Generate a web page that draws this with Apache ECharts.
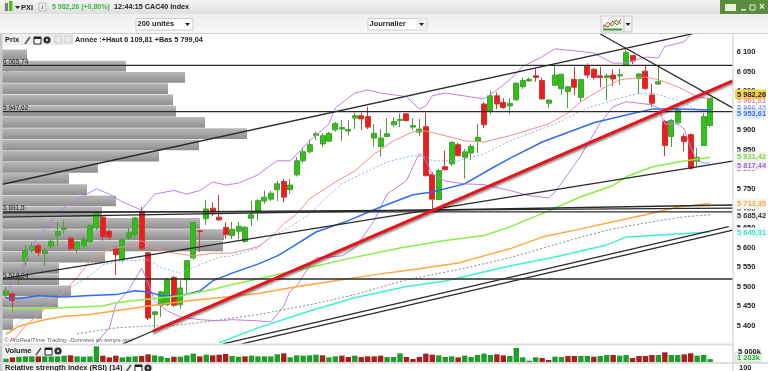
<!DOCTYPE html>
<html>
<head>
<meta charset="utf-8">
<style>html,body{margin:0;padding:0;background:#fff;overflow:hidden}#chart{width:768px;height:371px}</style>
<script src="https://cdn.jsdelivr.net/npm/echarts@6/dist/echarts.min.js"></script>
</head>
<body>
<div id="chart"></div>
<script>
// cours journaliers
var opens = [5480,5482,5523,5566,5592,5605,5585,5604,5631,5647,5624,5597,5605,5616,5652,5678,5642,5597,5569,5625,5633,5693,5587,5429,5453,5454,5524,5454,5518,5574,5643,5674,5701,5678,5652,5631,5642,5616,5675,5693,5719,5724,5748,5769,5748,5786,5822,5845,5887,5865,5872,5901,5903,5898,5931,5937,5935,5880,5858,5884,5914,5925,5942,5908,5895,5909,5787,5723,5807,5814,5863,5831,5842,5872,5967,5948,5988,5971,5962,5978,6011,6026,6039,6027,5969,6015,6006,5999,6030,5984,6064,6056,6039,6035,6041,6039,6065,6091,6032,6051,5990,6018,5922,5884,5919,5884,5889,5821,5861,5912];
var closes = [5490,5465,5526,5592,5603,5587,5592,5616,5641,5650,5597,5614,5620,5656,5688,5628,5627,5582,5620,5638,5676,5597,5420,5436,5487,5518,5453,5497,5567,5664,5641,5699,5691,5671,5633,5647,5655,5652,5684,5720,5729,5739,5763,5729,5760,5822,5845,5863,5891,5886,5892,5917,5907,5902,5937,5929,5908,5892,5880,5891,5922,5928,5925,5912,5903,5784,5724,5797,5799,5869,5835,5845,5859,5882,5914,5988,5967,5958,5969,6020,6027,6030,6035,5980,5977,6041,6043,6011,6010,6030,6041,6035,6035,6039,6031,6042,6099,6077,6044,6007,5969,6024,5861,5925,5952,5871,5803,5831,5935,5982];
var lows = [5472,5438,5505,5553,5586,5579,5553,5599,5603,5635,5594,5586,5597,5612,5645,5618,5620,5530,5563,5622,5622,5594,5415,5395,5423,5451,5449,5444,5484,5569,5589,5658,5681,5669,5622,5622,5622,5612,5656,5669,5712,5719,5719,5716,5737,5782,5816,5841,5875,5857,5870,5896,5872,5886,5903,5901,5903,5858,5833,5884,5908,5908,5922,5901,5886,5781,5699,5722,5798,5809,5833,5776,5824,5842,5906,5941,5954,5955,5941,5975,6005,6024,6024,5979,5956,6013,5990,5956,5990,5973,6033,6029,6010,5977,6013,6016,6065,6069,5992,6003,5959,6016,5834,5857,5914,5846,5799,5807,5860,5908];
var highs = [5500,5484,5535,5607,5612,5610,5599,5622,5666,5669,5627,5617,5630,5661,5693,5681,5645,5604,5622,5650,5678,5704,5589,5438,5490,5523,5528,5516,5569,5666,5645,5722,5716,5735,5665,5666,5666,5656,5720,5724,5746,5746,5771,5776,5776,5831,5855,5876,5896,5893,5896,5921,5926,5926,5945,5945,5960,5916,5903,5931,5933,5943,5943,5931,5929,5945,5793,5801,5848,5873,5868,5852,5865,5916,5972,6001,5996,5982,5982,6023,6035,6035,6058,6035,5980,6064,6044,6013,6062,6031,6071,6058,6062,6044,6056,6058,6109,6092,6044,6067,6018,6065,5926,5929,5957,5891,5892,5855,5944,5983];
var volumes = [1390,1950,2220,2360,2360,2360,2360,2360,2360,2640,2780,2360,2220,2360,6530,2640,1950,2640,1950,2220,2360,2500,3200,2780,2360,1670,2220,2220,2780,3480,2360,3060,2780,3060,3340,2500,2220,2360,2640,
  2360,2360,2360,3200,3610,1950,2780,2640,2780,3060,2780,1950,2360,2640,2090,2640,2090,2360,2360,2640,2090,2090,3610,2090,1250,2090,3480,3060,2780,2090,2360,1950,2640,2090,2920,3480,2920,3200,2780,2500,
  5840,1950,560,1950,1670,830,2220,2090,2500,2500,2500,2500,2220,2500,2920,2920,2640,2920,1670,2500,2500,2920,2920,4030,2920,2920,3200,3610,2640,2920,1203];
var profile = [25,124,183,166,171,174,203,245,197,157,96,67,85,114,100,198,222,221,103,57,57,69,56,40,11];

// moyennes et bandes : [indice de bougie, valeur]
var bollUpper = [[0,5487],[2,5528],[4,5604],[7,5668],[9,5704],[12,5732],[14,5750],[16,5737],[18,5717],[21,5696],[23,5737],[26,5746],[28,5737],[30,5746],[32,5768],[34,5760],[36,5765],[39,5786],[41,5811],[42,5822],[44,5822],[47,5873],[50,5916],[51,5957],[54,5995],[56,6003],[58,5995],[62,5986],[64,5954],[65,5962],[66,5988],[68,5995],[72,5985],[74,5980],[76,6003],[78,6029],[80,6063],[83,6088],[85,6108],[89,6101],[91,6097],[94,6071],[96,6072],[99,6087],[101,6085],[102,6114],[105,6126],[106,6146],[109,6149]];
var bollLower = [[14,5357],[16,5395],[17,5454],[19,5492],[21,5548],[22,5510],[23,5464],[25,5438],[27,5423],[30,5416],[33,5413],[35,5416],[39,5413],[41,5410],[43,5451],[44,5489],[45,5502],[47,5553],[48,5574],[50,5576],[52,5579],[54,5599],[57,5669],[59,5737],[62,5771],[64,5842],[65,5822],[66,5788],[68,5770],[71,5763],[74,5761],[78,5746],[81,5733],[84,5727],[85,5742],[87,5788],[89,5835],[91,5891],[92,5919],[94,5960],[96,5973],[100,5965],[101,5957],[102,5916],[104,5916],[105,5903],[106,5857],[107,5822],[108,5816],[109,5817]];
var maSalmon = [[1,5360],[3,5400],[5,5429],[8,5471],[11,5523],[13,5566],[16,5597],[19,5604],[21,5618],[23,5599],[26,5586],[29,5579],[32,5586],[35,5586],[39,5602],[41,5627],[43,5661],[45,5686],[47,5725],[51,5768],[54,5796],[57,5839],[60,5873],[63,5896],[65,5898],[68,5886],[71,5873],[74,5870],[78,5886],[84,5916],[87,5944],[89,5973],[92,6003],[95,6029],[99,6036],[101,6029],[104,6011],[107,5986],[109,5980]];
var maDashed = [[0,5382],[2,5408],[4,5438],[7,5454],[9,5489],[13,5528],[15,5556],[18,5566],[22,5569],[24,5548],[27,5535],[30,5556],[33,5576],[35,5579],[39,5599],[41,5627],[44,5653],[47,5686],[49,5719],[52,5763],[55,5788],[59,5819],[63,5835],[65,5832],[66,5822],[70,5822],[74,5839],[78,5873],[85,5916],[90,5957],[94,5977],[98,5995],[100,5995],[104,5977],[107,5952],[109,5947]];
var maBlue = [[0,5472],[2,5470],[5,5477],[9,5474],[13,5478],[17,5480],[20,5490],[22,5487],[24,5477],[27,5477],[30,5489],[32,5515],[35,5535],[39,5558],[42,5579],[44,5599],[48,5640],[53,5669],[58,5704],[63,5735],[66,5742],[71,5763],[75,5801],[78,5828],[83,5870],[91,5919],[96,5939],[100,5954],[104,5954],[109,5952]];
var maGreen = [[0,5443],[4,5444],[8,5446],[15,5451],[17,5459],[21,5467],[23,5470],[27,5477],[32,5493],[35,5506],[39,5520],[43,5535],[48,5553],[53,5572],[58,5589],[61,5599],[68,5618],[74,5631],[78,5653],[84,5694],[89,5730],[94,5759],[96,5781],[100,5806],[104,5819],[109,5831]];
var maOrange = [[0,5378],[2,5400],[6,5416],[9,5425],[13,5429],[17,5439],[22,5451],[28,5464],[33,5472],[39,5483],[45,5500],[52,5518],[58,5533],[64,5546],[70,5561],[74,5579],[78,5597],[83,5627],[89,5648],[94,5666],[99,5684],[104,5704],[109,5713]];
var maGray = [[11,5380],[17,5395],[22,5400],[26,5401],[32,5413],[39,5429],[47,5454],[54,5480],[62,5518],[70,5544],[78,5574],[89,5627],[94,5648],[100,5666],[105,5679],[109,5684]];
var maCyan = [[33,5357],[39,5395],[47,5438],[54,5472],[62,5501],[68,5515],[78,5553],[85,5576],[93,5607],[96,5627],[104,5635],[109,5640]];

// lignes tracees a la main sur le graphique
var levels = [6065.74,5947.62,5691.5,5519.94];
var trendBlack = [
  [[-0.5,5762],[106.2,6146]],
  [[-0.5,5521],[112.5,5821]],
  [[-0.5,5678],[112.5,5709]],
  [[-0.5,5689],[112.5,5701]],
  [[92,6146],[112.5,5957]],
  [[18.1,5354],[22.76,5387]],
  [[33.6,5354],[111.9,5654]],
  [[36.5,5354],[112.5,5645]]
];
var trendRed = [[22.76,5387],[112.5,6026]];

var lastIndex = opens.length + 3;
var categories = [];
for (var i = 0; i < lastIndex; i++) categories.push(String(i));

var candles = opens.map(function (o, i) { return [o, closes[i], lows[i], highs[i]]; });
var volBars = volumes.map(function (v, i) {
  var down = i > 0 && closes[i] < closes[i - 1];
  return { value: v, itemStyle: { color: down ? '#a81f1f' : '#1f9e2b' } };
});

function line(data, color, width, type, z) {
  return {
    type: 'line', xAxisIndex: 1, yAxisIndex: 0, data: data, showSymbol: false, silent: true,
    z: z || 4, lineStyle: { color: color, width: width, type: type || 'solid' }
  };
}

var FONT = '"Liberation Sans", Arial, sans-serif';
function txt(x, y, s, color, size, weight, bg) {
  var st = { x: x, y: y, text: s, fill: color || '#222', font: (weight || 'bold') + ' ' + (size || 7.5) + 'px ' + FONT, verticalAlign: 'middle' };
  if (bg) { st.backgroundColor = bg; st.padding = [1, 1, 1, 1]; }
  return { type: 'text', z: 50, style: st };
}
function box(x, y, w, h, fill, stroke) {
  return { type: 'rect', z: 40, shape: { x: x, y: y, width: w, height: h }, style: { fill: fill, stroke: stroke || null, lineWidth: 1 } };
}
function grad(a, b) {
  return new echarts.graphic.LinearGradient(0, 0, 0, 1, [{ offset: 0, color: a }, { offset: 1, color: b }]);
}
function tri(x, y) {
  return { type: 'polygon', z: 50, shape: { points: [[x, y], [x + 5, y], [x + 2.5, y + 3]] }, style: { fill: '#222' } };
}
function tools(x, y) {
  return [
    { type: 'line', z: 50, shape: { x1: x, y1: y + 4, x2: x + 5, y2: y - 3 }, style: { stroke: '#555', lineWidth: 1.6 } },
    box(x + 9, y - 3, 7, 7, '#fff', '#222'),
    box(x + 9, y - 3, 7, 2, '#222'),
    { type: 'circle', z: 50, shape: { cx: x + 22, cy: y, r: 3.6 }, style: { fill: '#333' } },
    { type: 'circle', z: 51, shape: { cx: x + 22, cy: y, r: 1.2 }, style: { fill: '#ccc' } }
  ];
}

var graphics = [
  // barres du haut
  box(0, 0, 768, 14, grad('#f4f4f4', '#dedede')),
  box(0, 14, 768, 20, grad('#eeeeee', '#f8f8f8')),
  { type: 'line', z: 41, shape: { x1: 0, y1: 33.5, x2: 768, y2: 33.5 }, style: { stroke: '#cfcfcf' } },
  box(0, 34, 2.5, 337, '#c8c8c8'),
  box(720, 0, 48, 14, '#5b8c3e'),
  box(725, 4, 11, 7, '#e8f0e0'),
  box(741, 9, 5, 1.5, '#e8f0e0'),
  box(750, 5, 5, 5, 'none', '#e8f0e0'),
  txt(759, 7.5, '×', '#e8f0e0', 10),
  box(5, 3, 3, 8, '#7a7a7a'),
  box(9, 1, 3.5, 10, '#49c21a'),
  tri(15, 6),
  txt(21, 7.5, 'PXI', '#222', 7.5),
  box(39, 3, 7, 8, '#eee', '#bbb'),
  txt(41.5, 7.5, 'i', '#555', 6),
  txt(52, 7.5, '5 982,26 (+0,80%)', '#3db54a', 7),
  txt(114, 7.5, '12:44:15 CAC40 Index', '#222', 7.2),
  box(136, 18.5, 57, 11.5, '#fff', '#ccc'),
  txt(137.5, 24, '200 unités', '#222', 7.5),
  tri(185, 23),
  box(368, 18.5, 59, 11.5, '#fff', '#ccc'),
  txt(369.5, 24, 'Journalier', '#222', 7.5),
  box(416, 18.5, 11, 11.5, '#eee'),
  tri(419, 23),
  box(601, 16, 23, 16, '#f4f4f4', '#ccc'),
  { type: 'polyline', z: 50, shape: { points: [[603, 28], [608, 22], [612, 26], [616, 20], [621, 24]] }, style: { stroke: '#3aa02a', fill: null } },
  { type: 'polyline', z: 50, shape: { points: [[603, 25], [608, 27], [613, 21], [617, 25], [621, 19]] }, style: { stroke: '#d33', fill: null } },
  box(603, 28.5, 19, 2, '#3aa02a'),
  box(624, 16, 8, 16, '#f0f0f0', '#ccc'),
  tri(625.5, 23),
  // entete du panneau prix
  box(3, 34, 70, 11, '#eeeeee'),
  txt(5, 40, 'Prix', '#222', 7.5),
  box(55, 36, 7, 7, '#e8e8e8', '#ccc'),
  box(65, 36, 7, 7, '#e8e8e8', '#ccc'),
  txt(75, 40, 'Année :+Haut 6 109,81 +Bas 5 799,04', '#222', 7.3),
  // niveaux
  txt(3, 62, '6 065,74', '#222', 6.5, 'normal'),
  txt(3, 108.5, '5 947,62', '#222', 6.5, 'normal'),
  txt(3, 208, '5 691,5', '#222', 6.5, 'normal'),
  txt(3, 276, '5 519,94', '#222', 6.5, 'normal'),
  txt(4, 340.5, '© ProRealTime Trading -Données en temps réel', '#666', 6, 'italic'),
  // separations
  box(0, 343.5, 734, 2, '#dddddd'),
  box(0, 362, 768, 2, '#dddddd'),
  { type: 'line', z: 41, shape: { x1: 733, y1: 34, x2: 733, y2: 371 }, style: { stroke: '#cccccc' } },
  box(3, 346, 60, 10, '#f0f0f0'),
  txt(5, 351, 'Volume', '#222', 7.5),
  box(3, 364, 150, 7, '#f0f0f0'),
  txt(5, 368, 'Relative strength index (RSI) (14)', '#222', 7.5),
  txt(739, 368, '100', '#222', 7.5),
  // etiquettes a droite
  txt(738, 351.5, '5 000k', '#222', 7.5),
  txt(737, 100.5, '5 961,61', '#f0908a', 7.5),
  txt(737, 108, '5 960,45', '#8fb0f5', 7.5),
  box(735, 108.5, 31, 11, '#e8effc'),
  txt(737, 114, '5 953,61', '#2f6cf0', 7.5),
  box(735, 89.5, 31, 9.5, '#f3d34a'),
  txt(737, 94.5, '5 982,26', '#222', 7.5),
  box(735, 151.5, 31, 10, '#f2f2f2'),
  txt(737, 156.5, '5 831,42', '#7bdc3c', 7.5),
  box(735, 160.5, 31, 10, '#f2f2f2'),
  txt(737, 165.5, '5 817,44', '#a55fd8', 7.5),
  box(735, 199, 31, 10, '#f4f4f4'),
  txt(737, 204, '5 713,35', '#ffa83c', 7.5),
  box(735, 210.5, 31, 10, '#f4f4f4'),
  txt(737, 215.5, '5 685,42', '#333', 7.5),
  box(735, 227.5, 31, 10, '#eefcfa'),
  txt(737, 232.5, '5 640,31', '#3fe0cc', 7.5),
  box(735, 352.5, 26, 9.5, '#eaf6ea', '#cde5cd'),
  txt(737, 357.5, '1 203k', '#2aa83a', 7.5)
].concat(tools(25, 40)).concat(tools(36, 351)).concat(tools(126, 368));

var series = [
  {
    type: 'bar', xAxisIndex: 3, yAxisIndex: 2, data: profile, barCategoryGap: '4%', silent: true, z: 1,
    itemStyle: { color: grad('#b9b9b9', '#8e8e8e') }
  },
  {
    type: 'candlestick', xAxisIndex: 0, yAxisIndex: 0, data: candles, barWidth: 5.5, silent: true, z: 3,
    itemStyle: { color: '#2cc412', color0: '#f01c1c', borderColor: '#4f9a3c', borderColor0: '#c23c38', borderWidth: 1 }
  },
  { type: 'bar', xAxisIndex: 2, yAxisIndex: 1, data: volBars, barWidth: 5.4, silent: true },
  line(bollUpper, '#bb82e6', 1),
  line(bollLower, '#bb82e6', 1),
  line(maSalmon, '#f0908a', 1),
  line(maDashed, '#8fb0f5', 1, [2, 2]),
  line(maBlue, '#2f6cf0', 1.5),
  line(maGreen, '#8aee44', 1.5),
  line(maOrange, '#ffa83c', 1.5),
  line(maGray, '#8a8a8a', 1, [2, 2]),
  line(maCyan, '#3df0d8', 1.5)
];
levels.forEach(function (v) {
  series.push(line([[-0.5, v], [112.5, v]], '#2a2a2a', 1.4, 'solid', 5));
});
trendBlack.forEach(function (d) {
  series.push(line(d, '#2a2a2a', 1.3, 'solid', 5));
});
var redLine = line(trendRed, '#e8141a', 3, 'solid', 6);
redLine.lineStyle.shadowColor = 'rgba(0,0,0,0.45)';
redLine.lineStyle.shadowBlur = 2;
redLine.lineStyle.shadowOffsetY = 2;
series.push(redLine);

var myChart = echarts.init(document.getElementById('chart'), null, { renderer: 'canvas' });
myChart.setOption({
  animation: false,
  backgroundColor: '#fff',
  grid: [
    { left: 2.77, top: 32.4, width: 729.9, height: 313.1 },
    { left: 2.77, top: 345.5, width: 729.9, height: 16.5 },
    { left: 2, top: 49.3, width: 731, height: 280.8 }
  ],
  xAxis: [
    { type: 'category', gridIndex: 0, data: categories, show: false },
    { type: 'value', gridIndex: 0, min: -0.5, max: 112.5, show: false },
    { type: 'category', gridIndex: 1, data: categories, show: false },
    { type: 'value', gridIndex: 2, min: 0, max: 731, show: false }
  ],
  yAxis: [
    {
      type: 'value', gridIndex: 0, position: 'right', min: 5350, max: 6150, interval: 50, scale: true,
      splitLine: { show: false },
      axisLine: { show: false },
      axisTick: { show: true, length: 3, lineStyle: { color: '#bbb' } },
      axisLabel: {
        margin: 4, fontFamily: FONT, fontSize: 7.5, fontWeight: 'bold', color: '#222',
        formatter: function (v) {
          if (v <= 5350 || v >= 6150) return '';
          var s = String(v);
          return s.charAt(0) + ' ' + s.slice(1);
        }
      }
    },
    { type: 'value', gridIndex: 1, min: 0, max: 6875, show: false },
    { type: 'category', gridIndex: 2, inverse: true, data: profile.map(function (_, i) { return String(i); }), show: false }
  ],
  graphic: { elements: graphics },
  series: series
});
</script>
</body>
</html>
